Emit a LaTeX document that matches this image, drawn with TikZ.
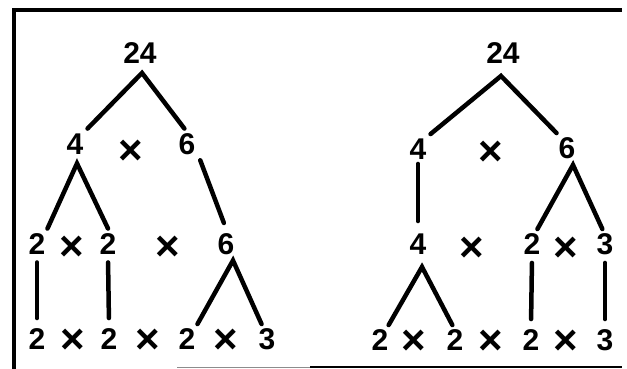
\documentclass[tikz,border=0pt]{standalone}
\usepackage{fontspec}
\setmainfont{Liberation Sans}
\tikzset{
  num/.style={inner sep=4pt, text height=21.5pt, text depth=0pt,
    font=\fontsize{30}{30}\selectfont\bfseries},
  times/.style={num, font=\fontsize{42}{42}\selectfont\bfseries, yshift=-3.5pt},
  branch/.style={line width=4.5pt, line cap=round},
  frameline/.style={line width=4.5pt}
}

\begin{document}
\begin{tikzpicture}[x=1pt, y=-1pt]
  \useasboundingbox (0,0) rectangle (627,369);

  % frame
  \draw[frameline] (14,369) -- (14,10) -- (622,10);
  \draw[line width=1pt, black!45] (177,367) -- (310,367);
  \draw[line width=2.5pt] (310,367) -- (622,367);

  % left tree
  \node[num] (lt) at (140,53) {24};
  \node[num] (l4) at (75,143.5) {4};
  \node[times] (lx1) at (131,150) {×};
  \node[num] (l6) at (187,143.5) {6};
  \node[num] (la) at (37,243.5) {2};
  \node[times] (lx2) at (72,246) {×};
  \node[num] (lb) at (108,243.5) {2};
  \node[times] (lx3) at (168,246) {×};
  \node[num] (lc) at (226,243.5) {6};
  \node[num] (ld1) at (37,339) {2};
  \node[times] (ld2) at (73,339) {×};
  \node[num] (ld3) at (109,339) {2};
  \node[times] (ld4) at (148,339) {×};
  \node[num] (ld5) at (187,339) {2};
  \node[times] (ld6) at (226,339) {×};
  \node[num] (ld7) at (267,339) {3};

  \draw[branch] (l4.north east) -- ([shift={(2,5)}]lt.south) -- (l6.100);
  \draw[branch] (la.55) -- ([shift={(2,5)}]l4.south) -- (lb.north);
  \draw[branch, shorten >=6pt, shorten <=2pt] (l6.south east) -- (lc.north);
  \draw[branch, shorten >=6pt, shorten <=4pt] (la.south) -- (ld1.north);
  \draw[branch, shorten >=6pt, shorten <=4pt] (lb.south) -- (ld3.north);
  \draw[branch] (ld5.55) -- ([shift={(7,2)}]lc.south) -- (ld7.110);

  % right tree
  \node[num] (rt) at (503,53) {24};
  \node[num] (r4) at (418,149) {4};
  \node[times] (rx1) at (491,151) {×};
  \node[num] (r6) at (567,148) {6};
  \node[num] (ra) at (418,244) {4};
  \node[times] (rx2) at (472,247) {×};
  \node[num] (rb) at (532,244) {2};
  \node[times] (rx3) at (566,247) {×};
  \node[num] (rc) at (605,244) {3};
  \node[num] (rd1) at (380,340) {2};
  \node[times] (rd2) at (414,340) {×};
  \node[num] (rd3) at (455,340) {2};
  \node[times] (rd4) at (491,340) {×};
  \node[num] (rd5) at (531,340) {2};
  \node[times] (rd6) at (566,340) {×};
  \node[num] (rd7) at (605,340) {3};

  \draw[branch] (r4.north east) -- ([shift={(-2,8)}]rt.south) -- (r6.125);
  \draw[branch, shorten >=8pt] (r4.south) -- (ra.north);
  \draw[branch] (rb.70) -- ([shift={(6,2)}]r6.south) -- (rc.100);
  \draw[branch] (rd1.60) -- ([shift={(4,8)}]ra.south) -- (rd3.100);
  \draw[branch, shorten >=6pt, shorten <=4pt] (rb.south) -- (rd5.north);
  \draw[branch, shorten >=6pt, shorten <=4pt] (rc.south) -- (rd7.north);
\end{tikzpicture}
\end{document}
